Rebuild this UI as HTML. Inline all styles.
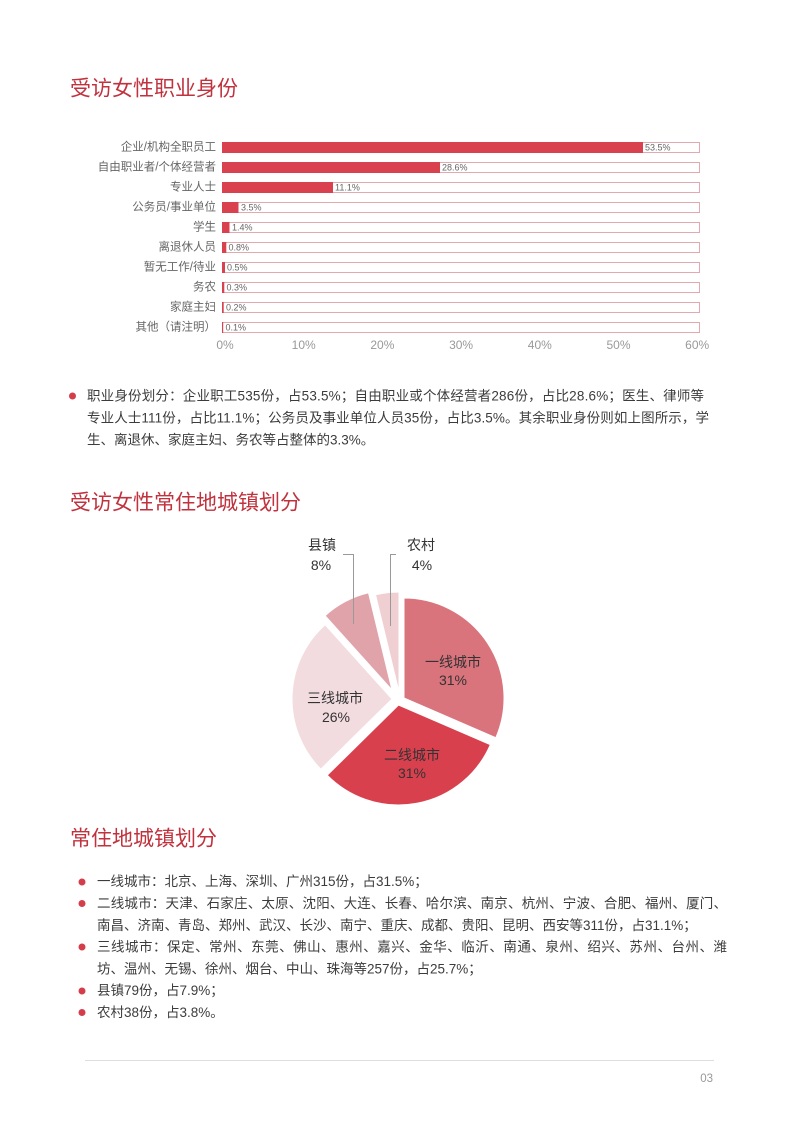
<!DOCTYPE html>
<html>
<head>
<meta charset="utf-8">
<style>
  html,body{margin:0;padding:0;background:#fff;}
  body{width:800px;height:1131px;overflow:hidden;}
  svg{display:block;}
  text{font-family:"Liberation Sans","Noto Sans CJK SC",sans-serif;dominant-baseline:central;}
</style>
</head>
<body>
<svg width="800" height="1131" viewBox="0 0 800 1131" xmlns="http://www.w3.org/2000/svg">
  <rect width="800" height="1131" fill="#ffffff"/>

  <!-- Title 1 -->
  <text x="70" y="89" font-size="21" fill="#c0323e">受访女性职业身份</text>

  <!-- Bar chart -->
  <g font-size="11.5" fill="#666" text-anchor="end">
    <text x="216" y="147.5">企业/机构全职员工</text>
    <text x="216" y="167.5">自由职业者/个体经营者</text>
    <text x="216" y="187.5">专业人士</text>
    <text x="216" y="207.5">公务员/事业单位</text>
    <text x="216" y="227.5">学生</text>
    <text x="216" y="247.5">离退休人员</text>
    <text x="216" y="267.5">暂无工作/待业</text>
    <text x="216" y="287.5">务农</text>
    <text x="216" y="307.5">家庭主妇</text>
    <text x="216" y="327.5">其他（请注明）</text>
  </g>
  <g stroke="#e4a9af" stroke-width="1" fill="#fff">
    <rect x="222.5" y="142.5" width="477" height="10"/>
    <rect x="222.5" y="162.5" width="477" height="10"/>
    <rect x="222.5" y="182.5" width="477" height="10"/>
    <rect x="222.5" y="202.5" width="477" height="10"/>
    <rect x="222.5" y="222.5" width="477" height="10"/>
    <rect x="222.5" y="242.5" width="477" height="10"/>
    <rect x="222.5" y="262.5" width="477" height="10"/>
    <rect x="222.5" y="282.5" width="477" height="10"/>
    <rect x="222.5" y="302.5" width="477" height="10"/>
    <rect x="222.5" y="322.5" width="477" height="10"/>
  </g>
  <g fill="#d9414f">
    <rect x="222" y="142" width="421" height="11"/>
    <rect x="222" y="162" width="218" height="11"/>
    <rect x="222" y="182" width="111" height="11"/>
    <rect x="222" y="202" width="16.5" height="11"/>
    <rect x="222" y="222" width="7.5" height="11"/>
    <rect x="222" y="242" width="4.3" height="11"/>
    <rect x="222" y="262" width="3" height="11"/>
    <rect x="222" y="282" width="2.3" height="11"/>
    <rect x="222" y="302" width="1.7" height="11"/>
    <rect x="222" y="322" width="1.2" height="11"/>
  </g>
  <g font-size="9" fill="#666">
    <text x="645" y="147.5">53.5%</text>
    <text x="442" y="167.5">28.6%</text>
    <text x="335" y="187.5">11.1%</text>
    <text x="241" y="207.5">3.5%</text>
    <text x="232" y="227.5">1.4%</text>
    <text x="228.5" y="247.5">0.8%</text>
    <text x="227" y="267.5">0.5%</text>
    <text x="226.5" y="287.5">0.3%</text>
    <text x="226" y="307.5">0.2%</text>
    <text x="225.5" y="327.5">0.1%</text>
  </g>
  <g font-size="12" fill="#999" text-anchor="middle">
    <text x="225" y="345">0%</text>
    <text x="303.7" y="345">10%</text>
    <text x="382.4" y="345">20%</text>
    <text x="461.1" y="345">30%</text>
    <text x="539.8" y="345">40%</text>
    <text x="618.5" y="345">50%</text>
    <text x="697.2" y="345">60%</text>
  </g>

  <!-- Paragraph 1 -->
  <circle cx="72.5" cy="396" r="3.5" fill="#d43d4a"/>
  <g font-size="13.5" fill="#3c3c3c">
    <text x="87" y="396" textLength="617" lengthAdjust="spacing">职业身份划分：企业职工535份，占53.5%；自由职业或个体经营者286份，占比28.6%；医生、律师等</text>
    <text x="87" y="418" textLength="622" lengthAdjust="spacing">专业人士111份，占比11.1%；公务员及事业单位人员35份，占比3.5%。其余职业身份则如上图所示，学</text>
    <text x="87" y="440">生、离退休、家庭主妇、务农等占整体的3.3%。</text>
  </g>

  <!-- Title 2 -->
  <text x="70" y="503" font-size="21" fill="#c0323e">受访女性常住地城镇划分</text>

  <!-- Pie chart -->
  <g stroke="#fff" stroke-width="1">
    <path d="M404,698 L404,598 A100,100 0 0 1 495.8,737.7 Z" fill="#d9737c"/>
    <path d="M398.5,705 L490.3,744.7 A100,100 0 0 1 327.3,775.2 Z" fill="#d9404e"/>
    <path d="M392,699 L320.8,769.2 A100,100 0 0 1 325.1,624.7 Z" fill="#f3dcdf"/>
    <path d="M392,690 L325.1,615.7 A100,100 0 0 1 368.5,592.8 Z" fill="#e0a3aa"/>
    <path d="M399,692 L375.5,594.8 A100,100 0 0 1 399,592 Z" fill="#f0cfd3"/>
  </g>
  <g stroke="#999" stroke-width="1" fill="none">
    <polyline points="343,554.5 353.5,554.5 353.5,624"/>
    <polyline points="396,554.5 390.5,554.5 390.5,626"/>
  </g>
  <g font-size="14" fill="#333" text-anchor="middle">
    <text x="322" y="545">县镇</text>
    <text x="321" y="565">8%</text>
    <text x="421" y="545">农村</text>
    <text x="422" y="565">4%</text>
    <text x="453" y="662">一线城市</text>
    <text x="453" y="680">31%</text>
    <text x="412" y="755">二线城市</text>
    <text x="412" y="773">31%</text>
    <text x="335" y="698">三线城市</text>
    <text x="336" y="717">26%</text>
  </g>

  <!-- Title 3 -->
  <text x="70" y="839" font-size="21" fill="#c0323e">常住地城镇划分</text>

  <!-- Bottom list -->
  <g fill="#d43d4a">
    <circle cx="82" cy="882" r="3.5"/>
    <circle cx="82" cy="903.5" r="3.5"/>
    <circle cx="82" cy="947" r="3.5"/>
    <circle cx="82" cy="991" r="3.5"/>
    <circle cx="82" cy="1012.5" r="3.5"/>
  </g>
  <g font-size="13.5" fill="#3c3c3c">
    <text x="97" y="881.7">一线城市：北京、上海、深圳、广州315份，占31.5%；</text>
    <text x="97" y="903.5" textLength="630" lengthAdjust="spacing">二线城市：天津、石家庄、太原、沈阳、大连、长春、哈尔滨、南京、杭州、宁波、合肥、福州、厦门、</text>
    <text x="97" y="925.3">南昌、济南、青岛、郑州、武汉、长沙、南宁、重庆、成都、贵阳、昆明、西安等311份，占31.1%；</text>
    <text x="97" y="947.1" textLength="630" lengthAdjust="spacing">三线城市：保定、常州、东莞、佛山、惠州、嘉兴、金华、临沂、南通、泉州、绍兴、苏州、台州、潍</text>
    <text x="97" y="968.9">坊、温州、无锡、徐州、烟台、中山、珠海等257份，占25.7%；</text>
    <text x="97" y="990.7">县镇79份，占7.9%；</text>
    <text x="97" y="1012.5">农村38份，占3.8%。</text>
  </g>

  <!-- Footer -->
  <line x1="85" y1="1060.5" x2="714" y2="1060.5" stroke="#dddddd" stroke-width="1"/>
  <text x="713" y="1079" font-size="11.5" fill="#999" text-anchor="end">03</text>
</svg>
</body>
</html>
